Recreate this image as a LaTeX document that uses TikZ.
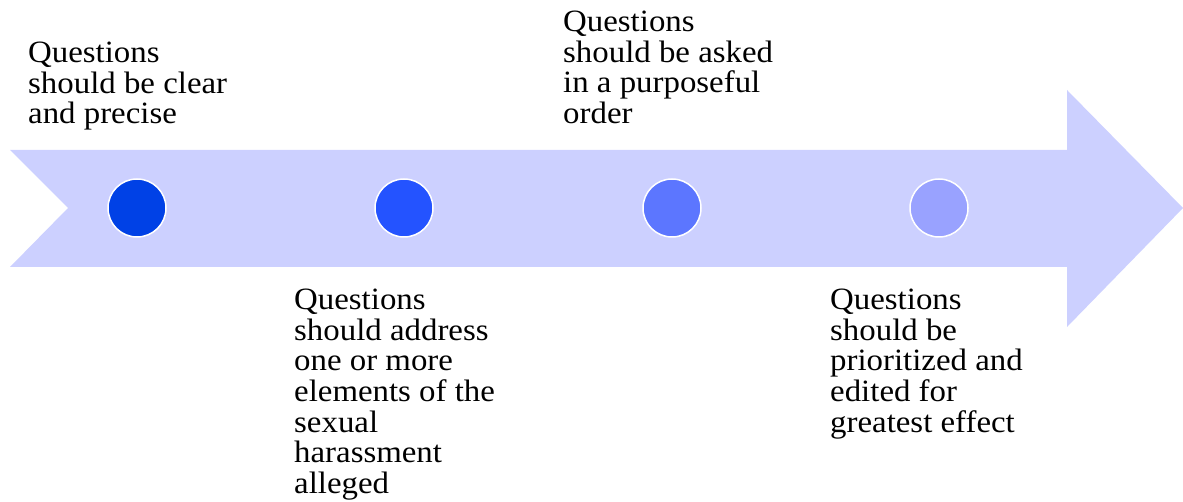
\documentclass[tikz,border=0pt]{standalone}
\usepackage{fontspec}
\setmainfont[FakeStretch=1.06]{Liberation Serif}
\usetikzlibrary{positioning}

\definecolor{bandfill}{RGB}{204,208,255}
\definecolor{dotA}{RGB}{0,65,230}
\definecolor{dotB}{RGB}{36,83,255}
\definecolor{dotC}{RGB}{92,118,255}
\definecolor{dotD}{RGB}{153,162,255}

\begin{document}
\begin{tikzpicture}[
    x=1pt, y=-1pt,
    dot/.style={
        circle,
        draw=white,
        line width=1.5pt,
        fill=#1,
        minimum size=58pt,
        inner sep=0pt
    },
    tip/.style={
        anchor=north west,
        inner sep=0pt,
        align=left,
        font=\fontsize{31}{30.6}\selectfont
    }
]
\useasboundingbox (0,0) rectangle (1183,502);

% ---- Timeline band ----
\fill[bandfill] (10,150) -- (1067,150) -- (1067,90) -- (1183,208)
    -- (1067,327) -- (1067,267) -- (10,267) -- (68,208) -- cycle;

% ---- Milestones ----
\node[dot=dotA] (m1) at (137,208) {};
\node[dot=dotB] (m2) at (404,208) {};
\node[dot=dotC] (m3) at (672,208) {};
\node[dot=dotD] (m4) at (939,208) {};

% ---- Labels (above / below, alternating) ----
\node[tip] (t1) at (28,42)  {Questions\\should be clear\\and precise};
\node[tip] (t2) at (294,289) {Questions\\should address\\one or more\\elements of the\\sexual\\harassment\\alleged};
\node[tip] (t3) at (563,11) {Questions\\should be asked\\in a purposeful\\order};
\node[tip] (t4) at (830,289) {Questions\\should be\\prioritized and\\edited for\\greatest effect};

\end{tikzpicture}
\end{document}
